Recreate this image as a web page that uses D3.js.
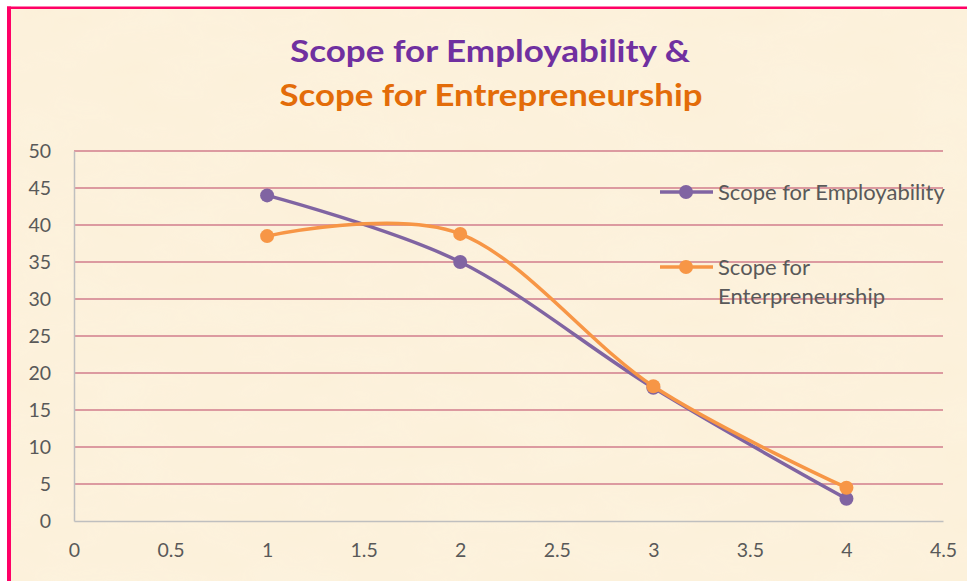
<!DOCTYPE html>
<html>
<head>
<meta charset="utf-8">
<script src="https://cdn.jsdelivr.net/npm/d3@7"></script>
<style>
  body { margin: 0; background: #fff; }
  svg { display: block; }
</style>
</head>
<body>
<div id="chart"></div>
<script>
// values
const xValues = [1, 2, 3, 4];
const employability = [44, 35, 18, 3];
const entrepreneurship = [38.5, 38.8, 18.2, 4.5];
const yTicks = [0, 5, 10, 15, 20, 25, 30, 35, 40, 45, 50];
const xTicks = [0, 0.5, 1, 1.5, 2, 2.5, 3, 3.5, 4, 4.5];
const seriesNames = ["Scope for Employability", "Scope for Enterpreneurship"];

const W = 967, H = 581;
const margin = {top: 151, right: 24, bottom: 60, left: 74},
      width = W - margin.left - margin.right,
      height = H - margin.top - margin.bottom;

const svg = d3.select("#chart").append("svg")
    .attr("width", W).attr("height", H);

// parchment-ish background
const defs = svg.append("defs");
const f = defs.append("filter").attr("id", "paper")
    .attr("x", 0).attr("y", 0).attr("width", "100%").attr("height", "100%");
f.append("feTurbulence").attr("type", "fractalNoise")
    .attr("baseFrequency", "0.012 0.03").attr("numOctaves", 3).attr("seed", 4).attr("result", "n");
f.append("feColorMatrix").attr("in", "n").attr("type", "matrix")
    .attr("values", "0 0 0 0 0.99  0 0 0 0 0.93  0 0 0 0 0.80  0 0 0 0.35 0").attr("result", "c");
f.append("feComposite").attr("in", "c").attr("in2", "SourceGraphic").attr("operator", "in");

svg.append("rect").attr("x", 11).attr("y", 9).attr("width", W).attr("height", H)
    .attr("fill", "#fcf0d9");
svg.append("rect").attr("x", 11).attr("y", 9).attr("width", W).attr("height", H)
    .attr("fill", "#fcf0d9").attr("filter", "url(#paper)");

// border (left + top visible)
svg.append("rect").attr("x", 7).attr("y", 6.5).attr("width", 4).attr("height", H).attr("fill", "#ff0066");
svg.append("rect").attr("x", 7).attr("y", 6.5).attr("width", W).attr("height", 2.5).attr("fill", "#ff0066");

// title
const title = svg.append("text").attr("text-anchor", "middle")
    .style("font-family", "Lato, 'Open Sans', sans-serif").style("font-weight", "bold")
    .style("font-size", "31px");
title.append("tspan").attr("x", 490).attr("y", 62).attr("fill", "#7030a0")
    .attr("textLength", 400).attr("lengthAdjust", "spacingAndGlyphs")
    .text("Scope for Employability &");
title.append("tspan").attr("x", 491).attr("y", 106).attr("fill", "#e36c09")
    .attr("textLength", 423).attr("lengthAdjust", "spacingAndGlyphs")
    .text("Scope for Entrepreneurship");

const g = svg.append("g").attr("transform", `translate(${margin.left},${margin.top})`);

const x = d3.scaleLinear().domain([0, 4.5]).range([0, width]);
const y = d3.scaleLinear().domain([0, 50]).range([height, 0]);

// gridlines
g.selectAll(".grid").data(yTicks.filter(d => d > 0)).enter().append("line")
    .attr("x1", 0).attr("x2", width)
    .attr("y1", d => y(d)).attr("y2", d => y(d))
    .attr("stroke", "#dc9aa0").attr("stroke-width", 1.8);

// axes
const yAxis = g.append("g").call(d3.axisLeft(y).tickValues(yTicks).tickSize(0).tickPadding(23));
const xAxis = g.append("g").attr("transform", `translate(0,${height})`)
    .call(d3.axisBottom(x).tickValues(xTicks).tickSize(0).tickPadding(22).tickFormat(d3.format("")));
[yAxis, xAxis].forEach(a => {
    a.select(".domain").attr("stroke", "#bfbfbf").attr("stroke-width", 1.5);
    a.selectAll("text").attr("fill", "#595959")
        .style("font-family", "Lato, 'Open Sans', sans-serif").style("font-size", "19.5px");
});

// series
const line = d3.line().curve(d3.curveCardinal.tension(0))
    .x(d => x(d[0])).y(d => y(d[1]));
const series = [
    {name: seriesNames[0], values: employability, color: "#8064a2"},
    {name: seriesNames[1], values: entrepreneurship, color: "#f79646"}
];

series.forEach(s => {
    const pts = xValues.map((v, i) => [v, s.values[i]]);
    g.append("path").datum(pts).attr("d", line)
        .attr("fill", "none").attr("stroke", s.color).attr("stroke-width", 3.5);
    g.selectAll(null).data(pts).enter().append("circle")
        .attr("cx", d => x(d[0])).attr("cy", d => y(d[1])).attr("r", 7)
        .attr("fill", s.color);
});

// legend
const legend = svg.append("g").attr("transform", "translate(660,192)")
    .style("font-family", "Lato, 'Open Sans', sans-serif").style("font-size", "22px");
const legendRows = [[seriesNames[0]], ["Scope for", "Enterpreneurship"]];
series.forEach((s, i) => {
    const ly = i * 75;
    legend.append("line").attr("x1", 0).attr("x2", 53).attr("y1", ly).attr("y2", ly)
        .attr("stroke", s.color).attr("stroke-width", 3.5);
    legend.append("circle").attr("cx", 26).attr("cy", ly).attr("r", 7).attr("fill", s.color);
    legendRows[i].forEach((t, j) => {
        legend.append("text").attr("x", 58).attr("y", ly + 8 + j * 29)
            .attr("fill", "#595959").text(t);
    });
});
</script>
</body>
</html>
